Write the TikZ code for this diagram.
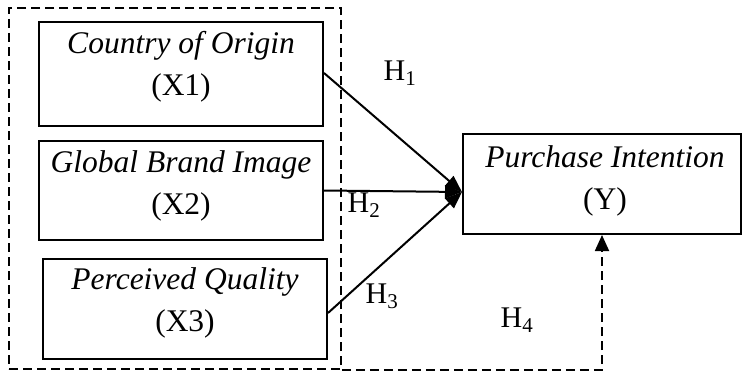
\documentclass[tikz,border=0pt]{standalone}
\usepackage{fontspec}
\setmainfont{Liberation Serif}
\usetikzlibrary{arrows.meta,calc}

\tikzset{
  varbox/.style={draw, line width=2pt, inner sep=0pt},
  varlabel/.style={align=center, font=\fontsize{31.5}{42}\selectfont, inner sep=0pt},
  hyp/.style={font=\fontsize{30}{32}\selectfont, inner sep=0pt},
  path/.style={line width=2pt, -{Triangle[length=17pt,width=13pt]}},
  groupframe/.style={draw, dash pattern=on 9pt off 5pt, line width=1.8pt, inner sep=0pt},
}

\begin{document}
\begin{tikzpicture}[x=1pt,y=-1pt]
  \useasboundingbox (0,0) rectangle (742,372);

  % dashed frame grouping the independent variables
  \node[groupframe, minimum width=332pt, minimum height=361pt] (grp) at (175,188.5) {};

  % independent variables
  \node[varbox, minimum width=284pt, minimum height=104pt] (x1) at (181,74) {};
  \node[varbox, minimum width=284pt, minimum height=99pt]  (x2) at (181,190.5) {};
  \node[varbox, minimum width=284pt, minimum height=100pt] (x3) at (185,309) {};
  % dependent variable
  \node[varbox, minimum width=278pt, minimum height=100pt] (y)  at (602,184) {};

  \node[varlabel] (tx1) at (181,67)  {\textit{Country of Origin}\\(X1)};
  \node[varlabel] (tx2) at (181,186) {\textit{Global Brand Image}\\(X2)};
  \node[varlabel] (tx3) at (185,303) {\textit{Perceived Quality}\\(X3)};
  \node[varlabel] (ty)  at (605,181) {\textit{Purchase Intention}\\(Y)};

  % hypothesised paths
  \coordinate (tip) at (462,192);
  \draw[path] ($(x1.east)+(0,-1)$) -- (tip);
  \draw[path] (x2.east) -- (tip);
  \draw[path] ($(x3.east)+(0,4)$) -- (tip);

  % joint effect along the frame bottom
  \draw[groupframe, -{Triangle[length=16pt,width=14pt]}]
    (grp.south east) -- (grp.south east -| y.south) -- (y.south);

  \node[hyp] (h1) at (400,73)  {H\textsubscript{1}};
  \node[hyp] (h2) at (364,205) {H\textsubscript{2}};
  \node[hyp] (h3) at (382,296) {H\textsubscript{3}};
  \node[hyp] (h4) at (517,320) {H\textsubscript{4}};
\end{tikzpicture}
\end{document}
